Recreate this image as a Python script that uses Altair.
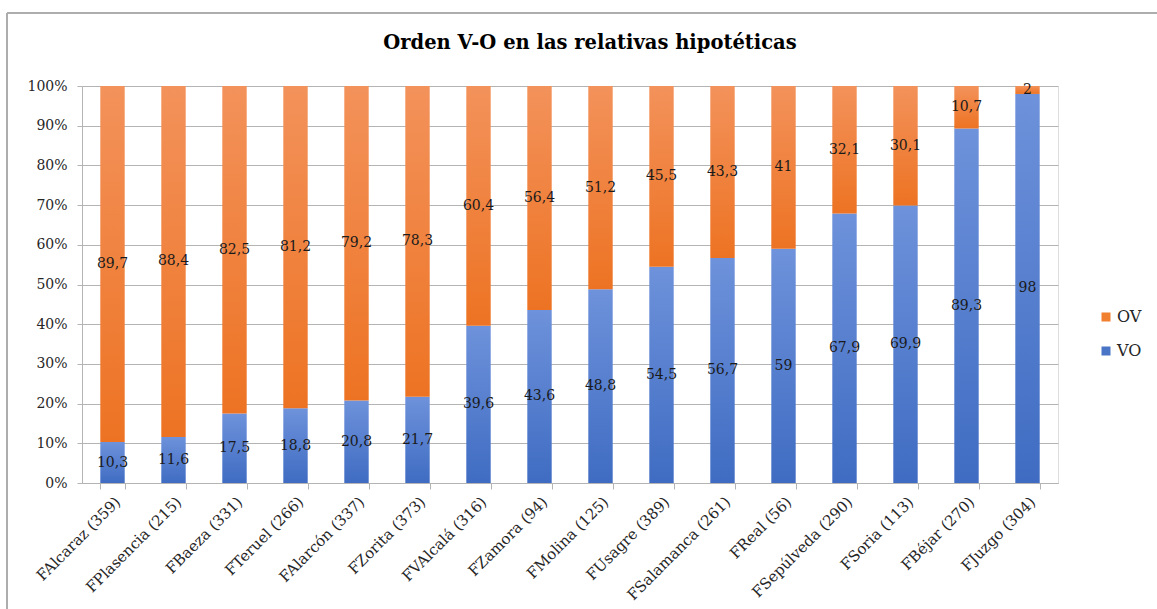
import altair as alt
import pandas as pd

categorias = ["FAlcaraz (359)", "FPlasencia (215)", "FBaeza (331)", "FTeruel (266)",
              "FAlarcón (337)", "FZorita (373)", "FVAlcalá (316)", "FZamora (94)",
              "FMolina (125)", "FUsagre (389)", "FSalamanca (261)", "FReal  (56)",
              "FSepúlveda (290)", "FSoria (113)", "FBéjar (270)", "FJuzgo (304)"]
vo = [10.3, 11.6, 17.5, 18.8, 20.8, 21.7, 39.6, 43.6, 48.8, 54.5, 56.7, 59, 67.9, 69.9, 89.3, 98]
ov = [89.7, 88.4, 82.5, 81.2, 79.2, 78.3, 60.4, 56.4, 51.2, 45.5, 43.3, 41, 32.1, 30.1, 10.7, 2]
series = ["OV", "VO"]
colores = ["#F07F2F", "#4A74C6"]
y_ticks = [0, 10, 20, 30, 40, 50, 60, 70, 80, 90, 100]


def fmt(v):
    return f"{v:g}".replace(".", ",")


wide = pd.DataFrame({"cat": categorias, "vo": vo, "ov": ov})
wide["top"] = wide["vo"] + wide["ov"]

rows = []
for c, a, b in zip(categorias, vo, ov):
    rows.append({"cat": c, "serie": "VO", "mid": a / 2, "label": fmt(a)})
    rows.append({"cat": c, "serie": "OV", "mid": a + b / 2, "label": fmt(b)})
long = pd.DataFrame(rows)

SERIF = "DejaVu Serif"

x_enc = alt.X("cat:N", sort=categorias, title=None,
              scale=alt.Scale(paddingInner=0.6, paddingOuter=0.3),
              axis=alt.Axis(labelAngle=-45, labelFont=SERIF, labelFontSize=15,
                            labelColor="#262626", tickBand="extent", tickSize=6,
                            tickColor="#B4B4B4", domainColor="#B4B4B4", labelPadding=5))
y_scale = alt.Scale(domain=[0, 100], nice=False)
y_axis = alt.Axis(values=y_ticks, labelExpr="datum.value + '%'", title=None,
                  labelFont=SERIF, labelFontSize=14, labelColor="#262626",
                  grid=True, gridColor="#B4B4B4", tickColor="#B4B4B4", tickSize=5,
                  domainColor="#B4B4B4", labelPadding=10)

grad_blue = {"gradient": "linear", "x1": 0, "y1": 0, "x2": 0, "y2": 1,
             "stops": [{"offset": 0, "color": "#6E92DB"}, {"offset": 1, "color": "#3F6CC2"}]}
grad_orange = {"gradient": "linear", "x1": 0, "y1": 0, "x2": 0, "y2": 1,
               "stops": [{"offset": 0, "color": "#F3925B"}, {"offset": 1, "color": "#ED7323"}]}

base = alt.Chart(wide)

bars_vo = base.mark_bar(color=grad_blue).encode(
    x=x_enc, y=alt.Y("vo:Q", scale=y_scale, axis=y_axis), y2=alt.datum(0))
bars_ov = base.mark_bar(color=grad_orange).encode(
    x=x_enc, y=alt.Y("vo:Q", scale=y_scale, axis=y_axis), y2="top:Q")

legend_layer = alt.Chart(long).mark_square(opacity=0).encode(
    x=x_enc, y=alt.Y("mid:Q", scale=y_scale, axis=y_axis),
    color=alt.Color("serie:N", scale=alt.Scale(domain=series, range=colores),
                    legend=alt.Legend(title=None, orient="none", legendX=1016, legendY=223,
                                      symbolType="square", symbolSize=81, symbolOpacity=1,
                                      symbolStrokeWidth=0, labelFont=SERIF, labelFontSize=16,
                                      labelColor="#262626", rowPadding=18, labelOffset=3)))

text = alt.Chart(long).mark_text(font=SERIF, fontSize=14, color="#1A1A1A").encode(
    x=x_enc, y=alt.Y("mid:Q", scale=y_scale, axis=y_axis), text="label:N")

border_df = pd.DataFrame({"b": [0]})
border_left = alt.Chart(border_df).mark_rule(color="#ADADAD", strokeWidth=2).encode(
    x=alt.value(-75), y=alt.value(-73), y2=alt.value(560))
border_top = alt.Chart(border_df).mark_rule(color="#ADADAD", strokeWidth=2).encode(
    x=alt.value(-75), x2=alt.value(1100), y=alt.value(-73))

chart = alt.layer(border_left, border_top, bars_vo, bars_ov, legend_layer, text).properties(
    width=976, height=397,
    title=alt.TitleParams("Orden V-O en las relativas hipotéticas", font=SERIF,
                          fontSize=19.5, fontWeight="bold", color="#000000", offset=-41, dx=20,
                          frame="group"),
    autosize=alt.AutoSizeParams(type="none"),
    padding={"left": 82, "top": 86, "right": 99, "bottom": 126},
).configure_view(stroke=None).configure(background="white")

chart.save("out.html", embed_options={"renderer": "svg", "actions": False})
